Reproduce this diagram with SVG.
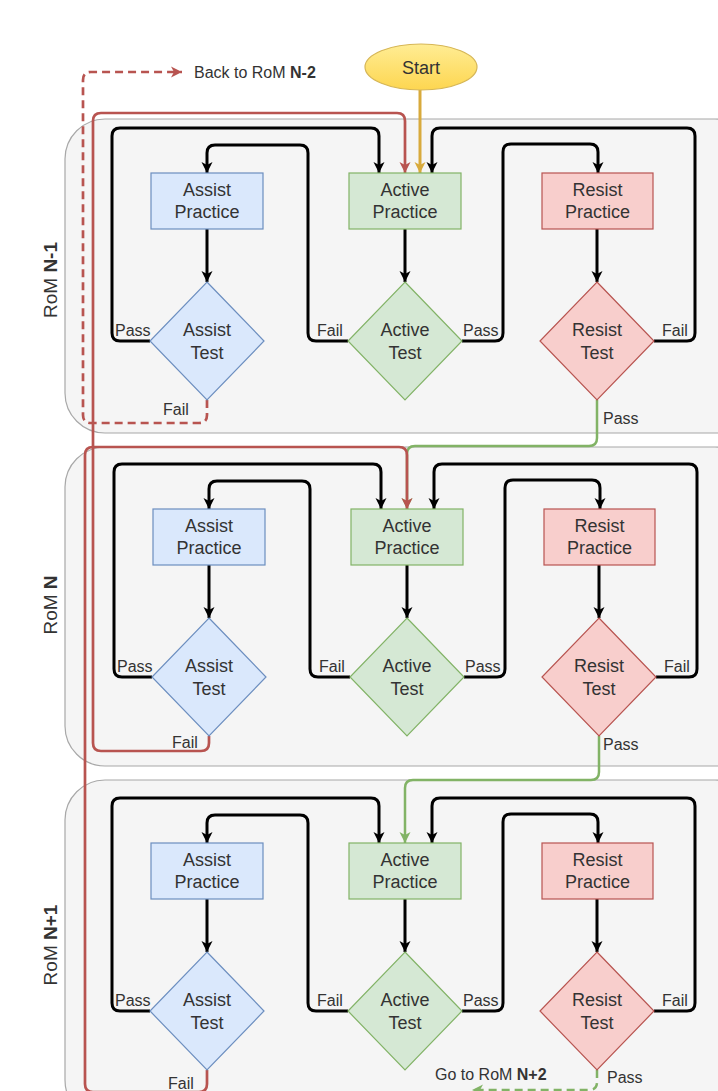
<svg xmlns="http://www.w3.org/2000/svg" width="718" height="1091" viewBox="0 0 718 1091">
<defs>
<style>
.panel{fill:#f5f5f5;stroke:#a8a8a8;stroke-width:1.2}
.nb{fill:#dae8fc;stroke:#6c8ebf;stroke-width:1.2}
.ng{fill:#d5e8d4;stroke:#82b366;stroke-width:1.2}
.nr{fill:#f8cecc;stroke:#b85450;stroke-width:1.2}
.t{font-family:"Liberation Sans",Arial,sans-serif;font-size:18px;fill:#333;text-anchor:middle}
.l{font-family:"Liberation Sans",Arial,sans-serif;font-size:16px;fill:#333}
.rom{font-family:"Liberation Sans",Arial,sans-serif;font-size:19px;fill:#333;text-anchor:middle}
.blk{fill:none;stroke:#000;stroke-width:3;marker-end:url(#ab)}
.red{fill:none;stroke:#b85450;stroke-width:2.7;marker-end:url(#ar)}
.grn{fill:none;stroke:#82b366;stroke-width:2.5;marker-end:url(#ag)}
.gold{fill:none;stroke:#d8aa3c;stroke-width:3;marker-end:url(#ay)}
.dash{stroke-dasharray:8 5}
</style>
<marker id="ab" viewBox="0 0 13 13" markerWidth="13" markerHeight="13" refX="12" refY="6.5" orient="auto" markerUnits="userSpaceOnUse"><path d="M1,1 L12,6.5 L1,12 L4,6.5 z" fill="#000"/></marker>
<marker id="ar" viewBox="0 0 13 13" markerWidth="13" markerHeight="13" refX="12" refY="6.5" orient="auto" markerUnits="userSpaceOnUse"><path d="M1,1 L12,6.5 L1,12 L4,6.5 z" fill="#b85450"/></marker>
<marker id="ag" viewBox="0 0 13 13" markerWidth="13" markerHeight="13" refX="12" refY="6.5" orient="auto" markerUnits="userSpaceOnUse"><path d="M1,1 L12,6.5 L1,12 L4,6.5 z" fill="#82b366"/></marker>
<marker id="ay" viewBox="0 0 13 13" markerWidth="13" markerHeight="13" refX="12" refY="6.5" orient="auto" markerUnits="userSpaceOnUse"><path d="M1,1 L12,6.5 L1,12 L4,6.5 z" fill="#d8aa3c"/></marker>
<linearGradient id="sg" x1="0" y1="0" x2="0" y2="1"><stop offset="0" stop-color="#ffed94"/><stop offset="1" stop-color="#fdd650"/></linearGradient>
</defs>
<rect width="718" height="1091" fill="#fff"/>

<g id="panels">
<rect class="panel" x="65" y="119" width="690" height="314" rx="40"/>
<rect class="panel" x="65" y="447" width="690" height="319" rx="40"/>
<rect class="panel" x="65" y="780" width="690" height="340" rx="40"/>
<text class="rom" transform="translate(57,280) rotate(-90)">RoM <tspan font-weight="bold">N-1</tspan></text>
<text class="rom" transform="translate(57,605) rotate(-90)">RoM <tspan font-weight="bold">N</tspan></text>
<text class="rom" transform="translate(57,945) rotate(-90)">RoM <tspan font-weight="bold">N+1</tspan></text>
</g>

<g id="connectors">
<!-- panel 1 -->
<path class="blk" d="M207 229 V282"/>
<path class="blk" d="M150 341 H120 Q112 341 112 333 V136 Q112 128 120 128 H371 Q379 128 379 136 V173"/>
<path class="blk" d="M348 341 H316 Q308 341 308 333 V153 Q308 145 300 145 H215 Q207 145 207 153 V173"/>
<path class="blk" d="M405 229 V282"/>
<path class="blk" d="M462 341 H495 Q503 341 503 333 V152 Q503 144 511 144 H590 Q598 144 598 152 V173"/>
<path class="blk" d="M597 229 V282"/>
<path class="blk" d="M654 341 H687 Q695 341 695 333 V136 Q695 128 687 128 H440 Q432 128 432 136 V173"/>
<!-- panel 2 -->
<path class="blk" d="M209 565 V618"/>
<path class="blk" d="M152 677 H122 Q114 677 114 669 V472 Q114 464 122 464 H373 Q381 464 381 472 V509"/>
<path class="blk" d="M350 677 H318 Q310 677 310 669 V489 Q310 481 302 481 H217 Q209 481 209 489 V509"/>
<path class="blk" d="M407 565 V618"/>
<path class="blk" d="M464 677 H497 Q505 677 505 669 V488 Q505 480 513 480 H592 Q600 480 600 488 V509"/>
<path class="blk" d="M599 565 V618"/>
<path class="blk" d="M656 677 H689 Q697 677 697 669 V472 Q697 464 689 464 H442 Q434 464 434 472 V509"/>
<!-- panel 3 -->
<path class="blk" d="M207 899 V952"/>
<path class="blk" d="M150 1011 H120 Q112 1011 112 1003 V806 Q112 798 120 798 H371 Q379 798 379 806 V843"/>
<path class="blk" d="M348 1011 H316 Q308 1011 308 1003 V823 Q308 815 300 815 H215 Q207 815 207 823 V843"/>
<path class="blk" d="M405 899 V952"/>
<path class="blk" d="M462 1011 H495 Q503 1011 503 1003 V822 Q503 814 511 814 H590 Q598 814 598 822 V843"/>
<path class="blk" d="M597 899 V952"/>
<path class="blk" d="M654 1011 H687 Q695 1011 695 1003 V806 Q695 798 687 798 H440 Q432 798 432 806 V843"/>
<!-- cross-panel -->
<path class="gold" d="M420 90 V173"/>
<path class="red dash" d="M207 400 V415 Q207 423 199 423 H91 Q83 423 83 415 V80 Q83 72 91 72 H182"/>
<path class="grn" d="M597 400 V438 Q597 446 589 446 H415 Q407 446 407 454 V509"/>
<path class="red" d="M209 736 V743 Q209 751 201 751 H101 Q93 751 93 743 V121 Q93 113 101 113 H397 Q405 113 405 121 V173"/>
<path class="red" d="M207 1070 V1084 Q207 1092 199 1092 H93 Q85 1092 85 1084 V455 Q85 447 93 447 H399 Q407 447 407 455 V509"/>
<path class="grn" d="M599 736 V772 Q599 780 591 780 H413 Q405 780 405 788 V843"/>
<path class="grn dash" d="M597 1070 V1082 Q597 1090 589 1090 H472"/>
<!-- labels -->
<text class="l" x="115" y="336">Pass</text>
<text class="l" x="317" y="336">Fail</text>
<text class="l" x="463" y="336">Pass</text>
<text class="l" x="662" y="336">Fail</text>
<text class="l" x="163" y="415">Fail</text>
<text class="l" x="603" y="424">Pass</text>
<text class="l" x="117" y="672">Pass</text>
<text class="l" x="319" y="672">Fail</text>
<text class="l" x="465" y="672">Pass</text>
<text class="l" x="664" y="672">Fail</text>
<text class="l" x="172" y="748">Fail</text>
<text class="l" x="603" y="750">Pass</text>
<text class="l" x="115" y="1006">Pass</text>
<text class="l" x="317" y="1006">Fail</text>
<text class="l" x="463" y="1006">Pass</text>
<text class="l" x="662" y="1006">Fail</text>
<text class="l" x="168" y="1089">Fail</text>
<text class="l" x="607" y="1083">Pass</text>
<text class="l" x="194" y="78">Back to RoM <tspan font-weight="bold">N-2</tspan></text>
<text class="l" x="435" y="1080">Go to RoM <tspan font-weight="bold">N+2</tspan></text>
</g>

<g id="start">
<ellipse cx="421" cy="67" rx="56" ry="23" fill="url(#sg)" stroke="#d6b656" stroke-width="1.2"/>
<text class="t" x="421" y="74" font-size="21">Start</text>
</g>

<!-- Panel 1 nodes -->
<g id="assist-practice-1"><rect class="nb" x="151" y="173" width="112" height="56"/><text class="t" x="207" y="196">Assist</text><text class="t" x="207" y="218">Practice</text></g>
<g id="assist-test-1"><polygon class="nb" points="207,282 264,341 207,400 150,341"/><text class="t" x="207" y="336">Assist</text><text class="t" x="207" y="359">Test</text></g>
<g id="active-practice-1"><rect class="ng" x="349" y="173" width="112" height="56"/><text class="t" x="405" y="196">Active</text><text class="t" x="405" y="218">Practice</text></g>
<g id="active-test-1"><polygon class="ng" points="405,282 462,341 405,400 348,341"/><text class="t" x="405" y="336">Active</text><text class="t" x="405" y="359">Test</text></g>
<g id="resist-practice-1"><rect class="nr" x="542" y="173" width="111" height="56"/><text class="t" x="597.5" y="196">Resist</text><text class="t" x="597.5" y="218">Practice</text></g>
<g id="resist-test-1"><polygon class="nr" points="597,282 654,341 597,400 540,341"/><text class="t" x="597" y="336">Resist</text><text class="t" x="597" y="359">Test</text></g>

<!-- Panel 2 nodes -->
<g id="assist-practice-2"><rect class="nb" x="153" y="509" width="112" height="56"/><text class="t" x="209" y="532">Assist</text><text class="t" x="209" y="554">Practice</text></g>
<g id="assist-test-2"><polygon class="nb" points="209,618 266,677 209,736 152,677"/><text class="t" x="209" y="672">Assist</text><text class="t" x="209" y="695">Test</text></g>
<g id="active-practice-2"><rect class="ng" x="351" y="509" width="112" height="56"/><text class="t" x="407" y="532">Active</text><text class="t" x="407" y="554">Practice</text></g>
<g id="active-test-2"><polygon class="ng" points="407,618 464,677 407,736 350,677"/><text class="t" x="407" y="672">Active</text><text class="t" x="407" y="695">Test</text></g>
<g id="resist-practice-2"><rect class="nr" x="544" y="509" width="111" height="56"/><text class="t" x="599.5" y="532">Resist</text><text class="t" x="599.5" y="554">Practice</text></g>
<g id="resist-test-2"><polygon class="nr" points="599,618 656,677 599,736 542,677"/><text class="t" x="599" y="672">Resist</text><text class="t" x="599" y="695">Test</text></g>

<!-- Panel 3 nodes -->
<g id="assist-practice-3"><rect class="nb" x="151" y="843" width="112" height="56"/><text class="t" x="207" y="866">Assist</text><text class="t" x="207" y="888">Practice</text></g>
<g id="assist-test-3"><polygon class="nb" points="207,952 264,1011 207,1070 150,1011"/><text class="t" x="207" y="1006">Assist</text><text class="t" x="207" y="1029">Test</text></g>
<g id="active-practice-3"><rect class="ng" x="349" y="843" width="112" height="56"/><text class="t" x="405" y="866">Active</text><text class="t" x="405" y="888">Practice</text></g>
<g id="active-test-3"><polygon class="ng" points="405,952 462,1011 405,1070 348,1011"/><text class="t" x="405" y="1006">Active</text><text class="t" x="405" y="1029">Test</text></g>
<g id="resist-practice-3"><rect class="nr" x="542" y="843" width="111" height="56"/><text class="t" x="597.5" y="866">Resist</text><text class="t" x="597.5" y="888">Practice</text></g>
<g id="resist-test-3"><polygon class="nr" points="597,952 654,1011 597,1070 540,1011"/><text class="t" x="597" y="1006">Resist</text><text class="t" x="597" y="1029">Test</text></g>
</svg>
